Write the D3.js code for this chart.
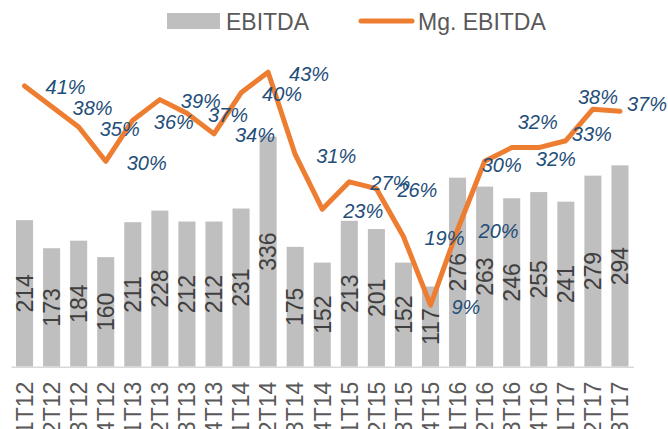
<!DOCTYPE html>
<html>
<head>
<meta charset="utf-8">
<script src="https://cdn.jsdelivr.net/npm/d3@7/dist/d3.min.js"></script>
<style>
  html, body { margin: 0; padding: 0; background: #ffffff; }
  svg { display: block; }
</style>
</head>
<body>
<script>
// ---- data ----
const categories = ["1T12","2T12","3T12","4T12","1T13","2T13","3T13","4T13","1T14","2T14","3T14","4T14",
                    "1T15","2T15","3T15","4T15","1T16","2T16","3T16","4T16","1T17","2T17","3T17"];
const ebitda = [214,173,184,160,211,228,212,212,231,336,175,152,213,201,152,117,276,263,246,255,241,279,294];
const mgEbitda = [41,38,35,30,36,39,37,34,40,43,31,23,27,26,19,9,20,30,32,32,33,37.6,37.3];
const seriesNames = ["EBITDA", "Mg. EBITDA"];

// label nudges (layout only, px) for the margin labels that sit off the default spot
const labelNudge = {
  "2T16": [-24, 2], "3T16": [-15, -27], "4T16": [-24, 10],
  "1T17": [-15, -8], "2T17": [-36, -14], "3T17": [-14, -9]
};

const W = 668, H = 429;
const svg = d3.select("body").append("svg").attr("width", W).attr("height", H);

const x = d3.scaleBand().domain(categories).range([11, 633.5]).paddingInner(0.37).paddingOuter(0.185);
const y = d3.scaleLinear().domain([0, 500]).range([366.7, 24.3]);
const y2 = d3.scaleLinear().domain([0, 50]).range([366.7, 24.3]);
const fmtPct = d3.format(".0f");

// bars
svg.append("g").selectAll("rect").data(categories).join("rect")
  .attr("x", d => x(d))
  .attr("width", x.bandwidth())
  .attr("y", (d, i) => y(ebitda[i]))
  .attr("height", (d, i) => y(0) - y(ebitda[i]))
  .attr("fill", "#BFBFBF");

// axis
const axis = svg.append("g").attr("transform", `translate(0,${y(0)})`)
  .call(d3.axisBottom(x).tickSize(0).tickPadding(0));
axis.select(".domain").attr("stroke", "#D9D9D9").attr("stroke-width", 1.5);
axis.selectAll(".tick text")
  .attr("transform", "rotate(-90)")
  .attr("text-anchor", "end")
  .attr("x", -15)
  .attr("y", 0)
  .attr("dy", "0.36em")
  .attr("font-family", "Liberation Sans, Arial, sans-serif")
  .attr("font-size", 23)
  .attr("fill", "#595959");

// bar value labels
svg.append("g").selectAll("text").data(categories).join("text")
  .attr("transform", (d, i) => {
    const cx = x(d) + x.bandwidth() / 2;
    const cy = (y(ebitda[i]) + y(0)) / 2;
    return `translate(${cx},${cy}) rotate(-90)`;
  })
  .attr("text-anchor", "middle")
  .attr("dy", "0.36em")
  .attr("font-family", "Liberation Sans, Arial, sans-serif")
  .attr("font-size", 23)
  .attr("fill", "#404040")
  .text((d, i) => ebitda[i]);

// line
const line = d3.line()
  .x((d, i) => x(categories[i]) + x.bandwidth() / 2)
  .y(d => y2(d));
svg.append("path").datum(mgEbitda)
  .attr("d", line)
  .attr("fill", "none")
  .attr("stroke", "#ED7D31")
  .attr("stroke-width", 5)
  .attr("stroke-linejoin", "round")
  .attr("stroke-linecap", "round");

// line labels
svg.append("g").selectAll("text").data(categories).join("text")
  .attr("x", (d, i) => x(d) + x.bandwidth() / 2 + 21 + (labelNudge[d] ? labelNudge[d][0] : 0))
  .attr("y", (d, i) => y2(mgEbitda[i]) + 8.5 + (labelNudge[d] ? labelNudge[d][1] : 0))
  .attr("font-family", "Liberation Sans, Arial, sans-serif")
  .attr("font-style", "italic")
  .attr("font-size", 20)
  .attr("fill", "#1F4E79")
  .text((d, i) => fmtPct(mgEbitda[i]) + "%");

// legend
const lg = svg.append("g");
lg.append("rect").attr("x", 167).attr("y", 13).attr("width", 53).attr("height", 16).attr("fill", "#BFBFBF");
lg.append("text").attr("x", 226).attr("y", 29.5)
  .attr("font-family", "Liberation Sans, Arial, sans-serif").attr("font-size", 23).attr("fill", "#595959")
  .text(seriesNames[0]);
lg.append("line").attr("x1", 361).attr("x2", 412).attr("y1", 21).attr("y2", 21)
  .attr("stroke", "#ED7D31").attr("stroke-width", 5).attr("stroke-linecap", "round");
lg.append("text").attr("x", 418).attr("y", 29.5)
  .attr("font-family", "Liberation Sans, Arial, sans-serif").attr("font-size", 23).attr("fill", "#595959")
  .text(seriesNames[1]);
</script>
</body>
</html>
